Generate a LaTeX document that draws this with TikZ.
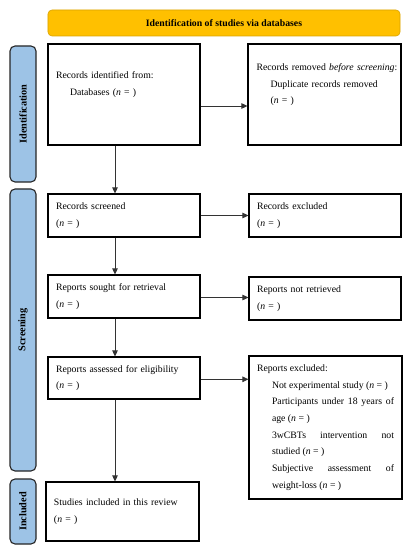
\documentclass[tikz,border=0pt]{standalone}
\usepackage{fontspec}
\setmainfont{Liberation Serif}
\usetikzlibrary{arrows.meta}
\definecolor{barblue}{HTML}{9DC3E6}
\definecolor{bannerorange}{HTML}{FFC000}
\definecolor{bannerborder}{HTML}{D9A300}
\newcommand{\boxfont}{\fontsize{9.8}{16.7}\selectfont}
\begin{document}
\begin{tikzpicture}[x=1bp,y=-1bp,
  box/.style={draw=black, line width=1.1bp, rectangle, minimum width=152bp,
    inner xsep=8bp, inner ysep=0pt, text width=136bp, align=left, font=\boxfont},
  bar/.style={draw=black!85, line width=1.1bp, fill=barblue, rounded corners=5bp,
    minimum width=26bp, inner sep=0pt},
  lbl/.style={rotate=90, font=\fontsize{10.3}{12}\selectfont\bfseries, inner sep=0pt},
  arr/.style={draw=black!80, line width=0.8bp, -{Triangle[length=6bp,width=5.5bp]}}]
\useasboundingbox (0,0) rectangle (408,550);

% banner
\node[fill=bannerorange, draw=bannerborder, line width=0.6bp, rounded corners=4bp,
  minimum width=352bp, minimum height=26bp, inner sep=0pt, font=\boxfont\bfseries]
  (banner) at (224,23) {Identification of studies via databases};

% side bars
\node[bar, minimum height=136bp] (bar1) at (23,114) {};
\node[bar, minimum height=282bp] (bar2) at (23,330) {};
\node[bar, minimum height=65bp] (bar3) at (23,511.5) {};
\node[lbl] (l1) at (bar1.center) {Identification};
\node[lbl] (l2) at (bar2.center) {Screening};
\node[lbl] (l3) at (bar3.center) {Included};

% boxes
\node[box, minimum height=101bp] (b1) at (124,94.5)
  {Records identified from:\\\hspace*{14bp}Databases (\textit{n} = )\\\strut};
\node[box, minimum width=153bp, minimum height=101bp] (b2) at (324.5,94.5)
  {\makebox[136bp][l]{Records removed \textit{before screening}:}\\\hspace*{14bp}Duplicate records removed\\\hspace*{14bp}(\textit{n} = )\\\strut};
\node[box, minimum height=43bp] (b3) at (124,215.5)
  {Records screened\\(\textit{n} = )};
\node[box, minimum height=43bp] (b4) at (325,215.5)
  {Records excluded\\(\textit{n} = )};
\node[box, minimum height=43bp] (b5) at (124,296.5)
  {Reports sought for retrieval\\(\textit{n} = )};
\node[box, minimum height=43bp] (b6) at (325,298.5)
  {Reports not retrieved\\(\textit{n} = )};
\node[box, minimum height=42bp] (b7) at (124,378)
  {Reports assessed for eligibility\\(\textit{n} = )};
\node[box, minimum width=153bp, text width=137bp, minimum height=143bp, align=justify] (b8) at (325.5,427.5)
  {\parindent=0pt Reports excluded:\par
   {\leftskip=15bp\relax
   Not experimental study (\textit{n} = )\par
   Participants under 18 years of\linebreak age (\textit{n} = )\par
   3wCBTs intervention not\linebreak studied (\textit{n} = )\par
   Subjective assessment of\linebreak weight-loss (\textit{n} = )\par}};
\node[box, minimum width=153bp, text width=137bp, minimum height=59bp] (b9) at (122.5,511.5)
  {Studies included in this review\\(\textit{n} = )};

% horizontal arrows
\draw[arr] ([yshift=-11.5bp]b1.east) -- ([yshift=-11.5bp]b1.east -| b2.west);
\draw[arr] (b3.east) -- (b3.east -| b4.west);
\draw[arr] ([yshift=-1bp]b5.east) -- ([yshift=-1bp]b5.east -| b6.west);
\draw[arr] ([yshift=-1.3bp]b7.east) -- ([yshift=-1.3bp]b7.east -| b8.west);

% vertical arrows
\draw[arr] ([xshift=-9bp]b1.south) -- ([xshift=-9bp]b1.south |- b3.north);
\draw[arr] ([xshift=-9bp]b3.south) -- ([xshift=-9bp]b3.south |- b5.north);
\draw[arr] ([xshift=-9bp]b5.south) -- ([xshift=-9bp]b5.south |- b7.north);
\draw[arr] ([xshift=-9bp]b7.south) -- ([xshift=-9bp]b7.south |- b9.north);
\end{tikzpicture}
\end{document}
